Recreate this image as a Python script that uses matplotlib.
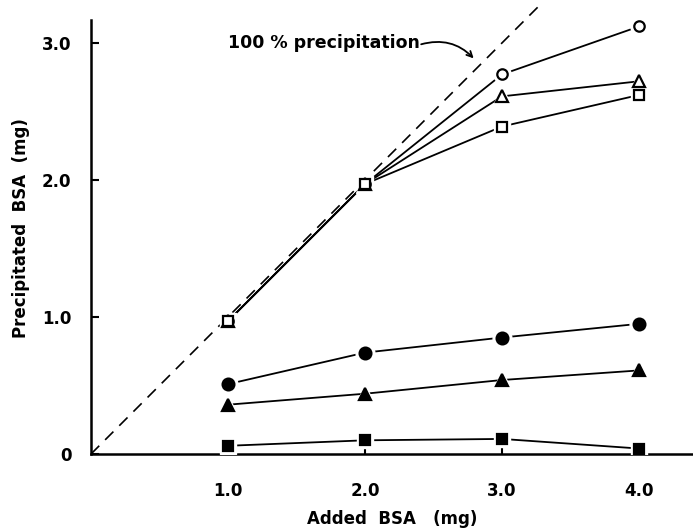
import numpy as np
import matplotlib.pyplot as plt

added = [1.0, 2.0, 3.0, 4.0]
open_circle = [0.97, 1.97, 2.77, 3.12]
open_triangle = [0.97, 1.97, 2.61, 2.72]
open_square = [0.97, 1.97, 2.39, 2.62]
filled_circle = [0.51, 0.74, 0.85, 0.95]
filled_triangle = [0.36, 0.44, 0.54, 0.61]
filled_square = [0.06, 0.10, 0.11, 0.04]

series = [
    (open_circle, 'o', 'white', 7.5),
    (open_triangle, '^', 'white', 8),
    (open_square, 's', 'white', 6.5),
    (filled_circle, 'o', 'black', 8.5),
    (filled_triangle, '^', 'black', 8.5),
    (filled_square, 's', 'black', 7),
]

fig = plt.figure(figsize=(6.93, 5.32), dpi=100)
ax = fig.add_axes([0.1313, 0.1466, 0.8687, 0.85])

# 100 % line
ax.plot([0, 3.27], [0, 3.27], ls=(0, (7, 5)), color='black', lw=1.2, zorder=1)

for ys, mk, fc, ms in series:
    ax.plot(added, ys, color='black', lw=1.3, zorder=2)
    # white halo so lines stop short of the symbols
    ax.plot(added, ys, ls='none', marker=mk, ms=ms + 5, mfc='white',
            mec='white', zorder=3)
for ys, mk, fc, ms in series:
    ax.plot(added, ys, ls='none', marker=mk, ms=ms, mfc=fc, mec='black',
            mew=1.6, zorder=4)

ax.set_xlim(0, 4.394)
ax.set_ylim(0, 3.3)
ax.spines['top'].set_visible(False)
ax.spines['right'].set_visible(False)
ax.spines['left'].set_bounds(0, 3.17)
for s in ('left', 'bottom'):
    ax.spines[s].set_linewidth(1.8)

ax.set_xticks(added)
ax.set_xticklabels(['1.0', '2.0', '3.0', '4.0'])
ax.set_yticks([0, 1, 2, 3])
ax.set_yticklabels(['0', '1.0', '2.0', '3.0'])
ax.tick_params(direction='in', length=6, width=1.5, labelsize=12)
ax.tick_params(axis='x', pad=20)
ax.tick_params(axis='y', pad=14)
for lab in ax.get_xticklabels() + ax.get_yticklabels():
    lab.set_fontweight('bold')

ax.set_xlabel('Added  BSA   (mg)', fontsize=12, fontweight='bold', labelpad=7)
ax.set_ylabel('Precipitated  BSA  (mg)', fontsize=12, fontweight='bold', labelpad=9)

ax.text(2.40, 3.0, '100 % precipitation', ha='right', va='center',
        fontsize=12.5, fontweight='bold')
ax.annotate('', xy=(2.8, 2.88), xytext=(2.41, 2.99),
            arrowprops=dict(arrowstyle='->', color='black', lw=1.3,
                            connectionstyle='arc3,rad=-0.3',
                            shrinkA=0, shrinkB=1))

fig.savefig('out.png', dpi=100)
